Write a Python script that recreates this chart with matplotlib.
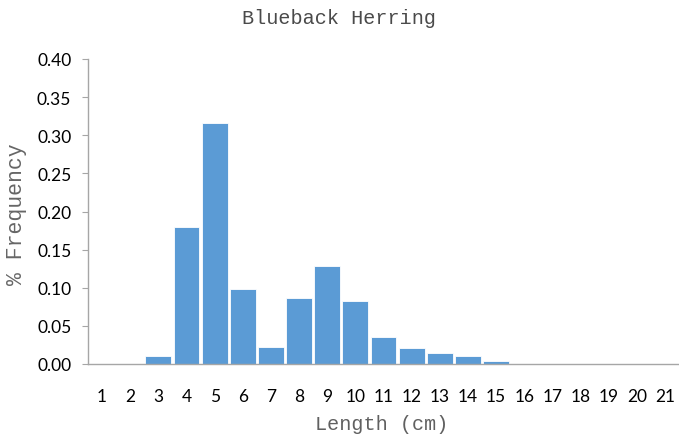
import matplotlib
matplotlib.use("Agg")
import matplotlib.pyplot as plt
from matplotlib.ticker import MultipleLocator, FormatStrFormatter

lengths = list(range(1, 22))
freq = [0.0, 0.0, 0.010, 0.180, 0.316, 0.098, 0.022, 0.086, 0.128, 0.082,
        0.035, 0.021, 0.014, 0.010, 0.004, 0.0, 0.0, 0.0, 0.0, 0.0, 0.0]
title = "Blueback Herring"
xlabel = "Length (cm)"
ylabel = "% Frequency"

fig = plt.figure(figsize=(6.79, 4.35), dpi=100)
ax = fig.add_axes([88/679, 1-365/435, 591/679, 305/435])

ax.bar(lengths, freq, width=0.92, color="#5B9BD5", edgecolor="white", linewidth=0.6)
ax.set_xlim(0.5, 21.5)
ax.set_ylim(0, 0.40)
ax.yaxis.set_major_locator(MultipleLocator(0.05))
ax.yaxis.set_major_formatter(FormatStrFormatter("%.2f"))
ax.set_xticks(lengths)
ax.set_xticklabels([str(v) for v in lengths])

for s in ["top", "right"]:
    ax.spines[s].set_visible(False)
for s in ["left", "bottom"]:
    ax.spines[s].set_color("#A6A6A6")
    ax.spines[s].set_linewidth(1.0)

ax.tick_params(axis="y", length=4, color="#A6A6A6", labelsize=12.5, pad=8)
ax.tick_params(axis="x", length=0, labelsize=12.5, pad=17)
for lab in ax.get_xticklabels() + ax.get_yticklabels():
    lab.set_fontfamily("Lato")
    lab.set_color("#000000")

fig.text(339/679, 1-19/435, title, ha="center", va="center",
         fontfamily="Liberation Mono", fontsize=14.5, color="#4a4a4a")
fig.text(382/679, 1-425/435, xlabel, ha="center", va="center",
         fontfamily="Liberation Mono", fontsize=14.5, color="#606060")
fig.text(17/679, 1-214/435, ylabel, ha="center", va="center", rotation=90,
         fontfamily="Liberation Mono", fontsize=15.5, color="#666666")

fig.savefig("out.png", dpi=100)
